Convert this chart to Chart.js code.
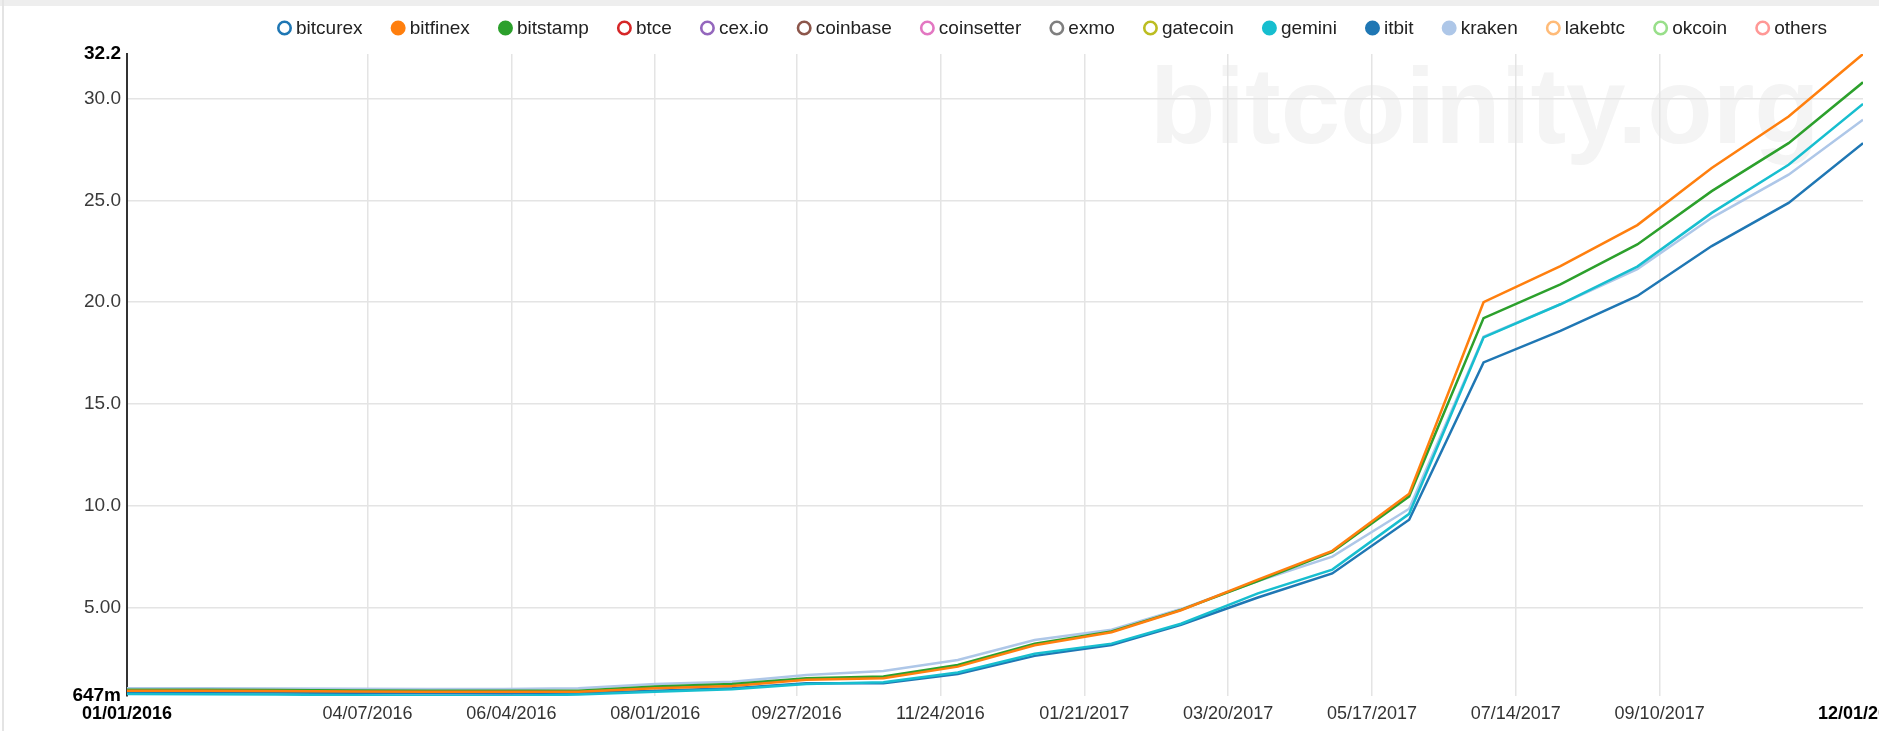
<!DOCTYPE html>
<html>
<head>
<meta charset="utf-8">
<script src="https://cdn.jsdelivr.net/npm/chart.js@4.4.1/dist/chart.umd.min.js"></script>
<style>
html,body{margin:0;padding:0;background:#fff;}
#wrap{position:relative;width:1879px;height:731px;}
</style>
</head>
<body>
<div id="wrap"><canvas id="c" width="1879" height="731"></canvas></div>
<script>
// ---- data ----
const months = ['2016-01-01','2016-02-01','2016-03-01','2016-04-01','2016-05-01','2016-06-01',
  '2016-07-01','2016-08-01','2016-09-01','2016-10-01','2016-11-01','2016-12-01',
  '2017-01-01','2017-02-01','2017-03-01','2017-04-01','2017-05-01','2017-06-01',
  '2017-07-01','2017-08-01','2017-09-01','2017-10-01','2017-11-01','2017-12-01'];

const bitfinex = [0.90,0.90,0.89,0.87,0.86,0.85,0.85,1.03,1.14,1.44,1.52,2.09,3.14,3.78,4.86,6.37,7.78,10.59,20.00,21.78,23.79,26.60,29.13,32.20];
const bitstamp = [0.95,0.95,0.94,0.92,0.91,0.90,0.91,1.11,1.24,1.52,1.60,2.17,3.22,3.82,4.88,6.30,7.73,10.46,19.22,20.88,22.84,25.46,27.82,30.81];
const gemini   = [0.74,0.73,0.72,0.69,0.66,0.647,0.72,0.86,0.98,1.24,1.32,1.80,2.72,3.22,4.20,5.69,6.86,9.60,18.27,19.90,21.75,24.39,26.76,29.75];
const itbit    = [0.83,0.83,0.82,0.80,0.78,0.77,0.78,0.91,1.03,1.27,1.27,1.73,2.62,3.15,4.15,5.49,6.67,9.31,17.04,18.59,20.31,22.76,24.88,27.82];
const kraken   = [1.03,1.03,1.02,1.00,0.99,0.99,1.03,1.24,1.35,1.68,1.88,2.42,3.40,3.90,4.92,6.30,7.50,9.85,18.30,19.90,21.62,24.15,26.27,28.97];

const seriesNames  = ['bitcurex','bitfinex','bitstamp','btce','cex.io','coinbase','coinsetter','exmo','gatecoin','gemini','itbit','kraken','lakebtc','okcoin','others'];
const seriesColors = ['#1f77b4','#ff7f0e','#2ca02c','#d62728','#9467bd','#8c564b','#e377c2','#7f7f7f','#bcbd22','#17becf','#1f77b4','#aec7e8','#ffbb78','#98df8a','#ff9896'];
const seriesValues = {bitfinex: bitfinex, bitstamp: bitstamp, gemini: gemini, itbit: itbit, kraken: kraken};

const xTickLabels = ['01/01/2016','04/07/2016','06/04/2016','08/01/2016','09/27/2016','11/24/2016',
  '01/21/2017','03/20/2017','05/17/2017','07/14/2017','09/10/2017','12/01/2017'];
const yTickValues = [0.647,5,10,15,20,25,30,32.2];
const yTickLabels = ['647m','5.00','10.0','15.0','20.0','25.0','30.0','32.2'];

// ---- helpers ----
const BASE = Date.UTC(2016,0,1);
function dayOfIso(s){ const [y,m,d] = s.split('-').map(Number); return (Date.UTC(y,m-1,d)-BASE)/86400000; }
function dayOfUs(s){ const [m,d,y] = s.split('/').map(Number); return (Date.UTC(y,m-1,d)-BASE)/86400000; }
const xTickDays = xTickLabels.map(dayOfUs);
const monthDays = months.map(dayOfIso);
const FONT = '"Liberation Sans", Arial, sans-serif';

const datasets = seriesNames.map((name,i)=>{
  const vals = seriesValues[name];
  return {
    label: name,
    data: vals ? vals.map((v,j)=>({x: monthDays[j], y: v})) : [],
    hidden: !vals,
    borderColor: seriesColors[i],
    backgroundColor: seriesColors[i],
    borderWidth: 2.5,
    pointRadius: 0,
    tension: 0,
    fill: false
  };
});

const watermark = {
  id: 'watermark',
  beforeDraw(chart){
    const ctx = chart.ctx;
    ctx.save();
    ctx.fillStyle = '#eeeeee';
    ctx.fillRect(0,0,chart.width,6);
    ctx.fillStyle = '#e4e4e4';
    ctx.fillRect(2,0,2,chart.height);
    ctx.font = 'bold 107px ' + FONT;
    ctx.fillStyle = '#f4f4f4';
    ctx.textBaseline = 'alphabetic';
    ctx.textAlign = 'left';
    ctx.fillText('bitcoinity.org', 1150, 143);
    ctx.restore();
  }
};

const customLegend = {
  id: 'customLegend',
  afterDraw(chart){
    const ctx = chart.ctx;
    ctx.save();
    ctx.font = '19px ' + FONT;
    const ds = chart.data.datasets;
    const r = 7.5, gapText = 4;
    const widths = ds.map(d => 2*r + gapText + ctx.measureText(d.label).width);
    const total = widths.reduce((a,b)=>a+b,0);
    const startX = 277, endX = 1827;
    const gap = (endX - startX - total)/(ds.length-1);
    let x = startX; const y = 28;
    ds.forEach((d,i)=>{
      const visible = chart.isDatasetVisible(i);
      ctx.beginPath();
      ctx.arc(x+r, y, r-1.3, 0, Math.PI*2);
      ctx.lineWidth = 2.6;
      ctx.strokeStyle = d.borderColor;
      if (visible){ ctx.fillStyle = d.borderColor; ctx.fill(); }
      ctx.stroke();
      ctx.fillStyle = '#222';
      ctx.textBaseline = 'middle';
      ctx.textAlign = 'left';
      ctx.fillText(d.label, x+2*r+gapText, y+1);
      x += widths[i] + gap;
    });
    ctx.restore();
  }
};

const lastX = xTickLabels.length-1, lastY = yTickValues.length-1;

new Chart(document.getElementById('c'), {
  type: 'line',
  data: { datasets: datasets },
  plugins: [watermark, customLegend],
  options: {
    responsive: false,
    animation: false,
    layout: { padding: { top: 54, right: 16, bottom: 0, left: 0 } },
    plugins: { legend: { display: false }, tooltip: { enabled: false } },
    scales: {
      x: {
        type: 'linear',
        min: xTickDays[0],
        max: xTickDays[lastX],
        afterBuildTicks: s => { s.ticks = xTickDays.map(v => ({ value: v })); },
        afterFit: s => { s.paddingLeft = 0; s.paddingRight = 0; s.height = 35; },
        ticks: {
          autoSkip: false, maxRotation: 0, minRotation: 0, padding: 7,
          callback: (v, i) => xTickLabels[i],
          color: ctx => (ctx.index === 0 || ctx.index === lastX) ? '#000' : '#333',
          font: ctx => ({ family: FONT, size: 18, weight: (ctx.index === 0 || ctx.index === lastX) ? 'bold' : 'normal' })
        },
        grid: {
          drawTicks: false,
          lineWidth: 1.5,
          color: ctx => (ctx.index === 0 || ctx.index === lastX) ? 'rgba(0,0,0,0)' : '#e4e4e4'
        },
        border: { display: false }
      },
      y: {
        type: 'linear',
        min: yTickValues[0],
        max: yTickValues[lastY],
        afterBuildTicks: s => { s.ticks = yTickValues.map(v => ({ value: v })); },
        afterFit: s => { s.width = 127; s.paddingTop = 0; s.paddingBottom = 0; },
        ticks: {
          padding: 6,
          callback: (v, i) => yTickLabels[i],
          color: ctx => (ctx.index === 0 || ctx.index === lastY) ? '#000' : '#3a3a3a',
          font: ctx => ({ family: FONT, size: 19, weight: (ctx.index === 0 || ctx.index === lastY) ? 'bold' : 'normal' })
        },
        grid: {
          drawTicks: false,
          lineWidth: 1.5,
          color: ctx => (ctx.index === 0 || ctx.index === lastY) ? 'rgba(0,0,0,0)' : '#e4e4e4'
        },
        border: { display: true, color: '#333', width: 2 }
      }
    }
  }
});
</script>
</body>
</html>
